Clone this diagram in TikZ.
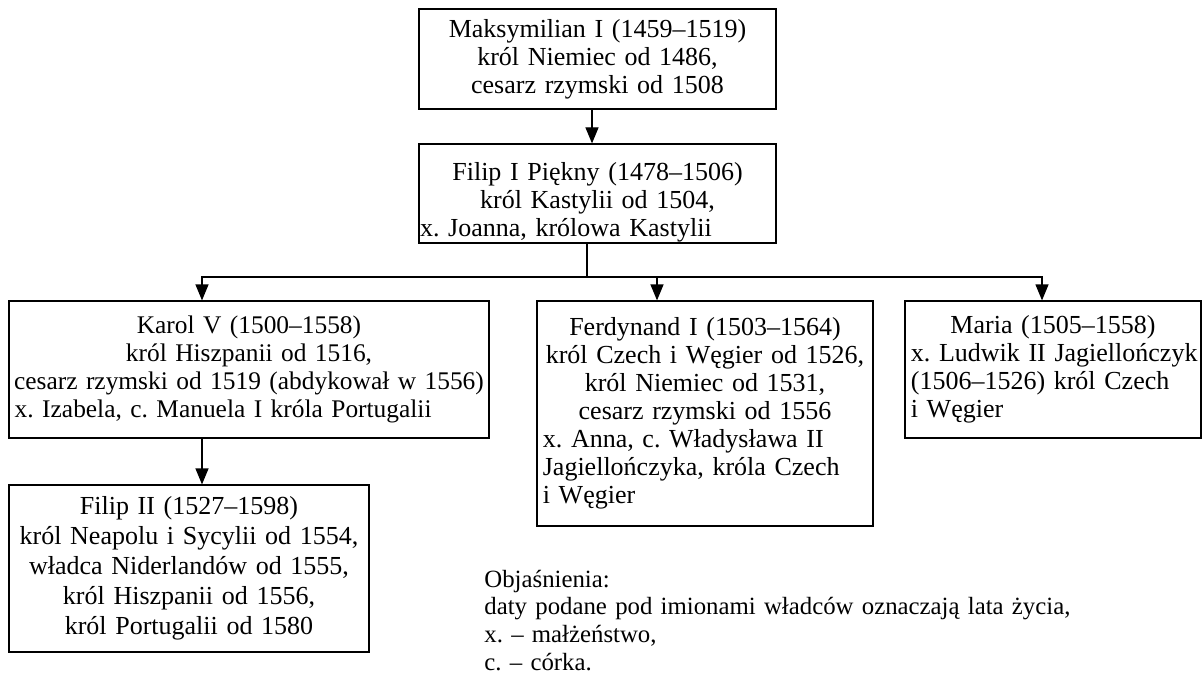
\documentclass[tikz,border=0pt]{standalone}
\usepackage{fontspec}
\setmainfont{Liberation Serif}
\usetikzlibrary{arrows.meta}
\newcommand{\flushline}[1]{\makebox[\hsize][l]{#1}}

\begin{document}
\begin{tikzpicture}[
  x=0.5pt, y=-0.5pt,
  ruler/.style={draw, line width=0.6pt, align=center, inner xsep=0.75pt, inner ysep=0pt, font=\fontsize{13}{14}\selectfont\frenchspacing},
  notes/.style={align=left, inner sep=0pt, text width=340pt, font=\fontsize{12.4}{13.85}\selectfont\frenchspacing},
  link/.style={line width=0.6pt, -{Triangle[length=8pt, width=6.5pt]}}
]
\useasboundingbox (0,0) rectangle (1202,679);

\node[ruler, text width=177pt, minimum height=50pt] (maks) at (597.5,59) {Maksymilian I (1459–1519)\\król Niemiec od 1486,\\cesarz rzymski od 1508};
\node[ruler, text width=177.5pt, inner xsep=0.5pt, minimum height=49.5pt] (filip1) at (597.5,193.5) {\rule{0pt}{18.3pt}Filip I Piękny (1478–1506)\\król Kastylii od 1504,\\\flushline{x. Joanna, królowa Kastylii}};
\node[ruler, text width=238.5pt, minimum height=68.5pt, font=\fontsize{12.7}{14}\selectfont\frenchspacing] (karol) at (249,369.5) {Karol V (1500–1558)\\król Hiszpanii od 1516,\\\mbox{cesarz rzymski od 1519 (abdykował w 1556)}\\\flushline{\,x. Izabela, c. Manuela I króla Portugalii}};
\node[ruler, text width=166.5pt, minimum height=112.5pt] (ferd) at (705,413.5) {Ferdynand I (1503–1564)\\król Czech i Węgier od 1526,\\król Niemiec od 1531,\\cesarz rzymski od 1556\\\flushline{\,x. Anna, c. Władysława II}\\\flushline{\,Jagiellończyka, króla Czech}\\\flushline{\,i Węgier}};
\node[ruler, text width=146.5pt, minimum height=68.5pt] (maria) at (1053,369.5) {Maria (1505–1558)\\\flushline{\,x. Ludwik II Jagiellończyk}\\\flushline{\,(1506–1526) król Czech}\\\flushline{\,i Węgier}};
\node[ruler, text width=178.5pt, minimum height=83.5pt, font=\fontsize{13}{15}\selectfont\frenchspacing] (filip2) at (189,568.5) {Filip II (1527–1598)\\król Neapolu i Sycylii od 1554,\\władca Niderlandów od 1555,\\król Hiszpanii od 1556,\\król Portugalii od 1580};
\node[notes, anchor=base west] (legend) at (484,587) {Objaśnienia:\\daty podane pod imionami władców oznaczają lata życia,\\x. – małżeństwo,\\c. – córka.};

\coordinate (top) at (592,0);
\coordinate (fork) at (587,277);
\coordinate (kx) at (202,277);
\coordinate (fx) at (657,277);
\coordinate (mx) at (1042,277);

\draw[link] (maks.south -| top) -- (filip1.north -| top);
\draw[line width=0.6pt] (filip1.south -| fork) -- (fork);
\draw[link] (fork) -| (karol.north -| kx);
\draw[link] (fork) -| (maria.north -| mx);
\draw[link] (fx) -- (ferd.north -| fx);
\draw[link] (karol.south -| kx) -- (filip2.north -| kx);
\end{tikzpicture}
\end{document}
